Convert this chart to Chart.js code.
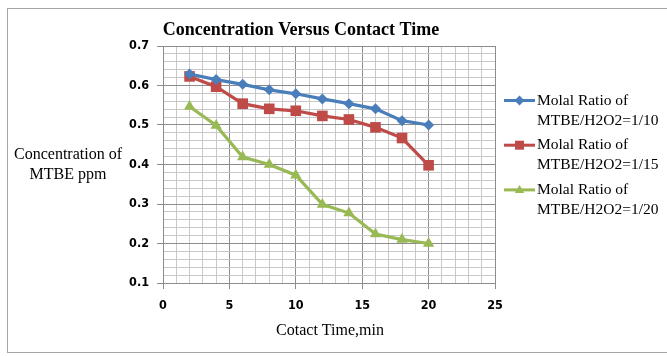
<!DOCTYPE html>
<html>
<head>
<meta charset="utf-8">
<script src="https://cdn.jsdelivr.net/npm/chart.js"></script>
<style>
  html, body { margin: 0; padding: 0; background: #fff; }
  #chart { display: block; }
</style>
</head>
<body>
<canvas id="chart" width="667" height="356"></canvas>
<script>
// contact time (min)
const contactTimes = [2, 4, 6, 8, 10, 12, 14, 16, 18, 20];

// MTBE concentration (ppm) per molal ratio
const ratio10 = [0.629, 0.615, 0.603, 0.589, 0.579, 0.566, 0.554, 0.541, 0.511, 0.500];
const ratio15 = [0.623, 0.597, 0.554, 0.541, 0.536, 0.523, 0.514, 0.494, 0.467, 0.398];
const ratio20 = [0.547, 0.499, 0.419, 0.400, 0.373, 0.299, 0.277, 0.224, 0.210, 0.200];

const seriesNames = [
    ['Molal Ratio of', 'MTBE/H2O2=1/10'],
    ['Molal Ratio of', 'MTBE/H2O2=1/15'],
    ['Molal Ratio of', 'MTBE/H2O2=1/20'],
];

const chartTitle = 'Concentration Versus Contact Time';
const yTitle = ['Concentration of', 'MTBE ppm'];
const xTitle = 'Cotact Time,min';

const colors = ['#4a7ebb', '#be4b48', '#98b954'];
const markers = ['rectRot', 'rect', 'triangle'];
const markerSizes = [5.5, 7.5, 6.5];

const MAJOR = '#8c8c8c';
const MINOR = '#c8c8c8';
const serif = "'Liberation Serif', 'Times New Roman', serif";
const narrow = "'DejaVu Sans Condensed', 'Liberation Sans Narrow', sans-serif";

function toPoints(values) {
    return contactTimes.map((t, i) => ({ x: t, y: values[i] }));
}

function isTenth(v) {
    return Math.abs(v * 10 - Math.round(v * 10)) < 1e-6;
}

function drawMarker(ctx, style, x, y, r) {
    ctx.beginPath();
    if (style === 'rectRot') {
        ctx.moveTo(x, y - r);
        ctx.lineTo(x + r, y);
        ctx.lineTo(x, y + r);
        ctx.lineTo(x - r, y);
    } else if (style === 'rect') {
        ctx.rect(x - r, y - r, 2 * r, 2 * r);
    } else {
        ctx.moveTo(x, y - r);
        ctx.lineTo(x + r * 0.95, y + r * 0.6);
        ctx.lineTo(x - r * 0.95, y + r * 0.6);
    }
    ctx.closePath();
    ctx.fill();
}

const decorations = {
    id: 'decorations',
    beforeDraw(chart) {
        const ctx = chart.ctx;
        ctx.save();
        ctx.strokeStyle = '#a6a6a6';
        ctx.lineWidth = 1;
        ctx.strokeRect(7.5, 8.5, 670, 344);
        ctx.restore();
    },
    afterDraw(chart) {
        const ctx = chart.ctx;
        ctx.save();
        ctx.fillStyle = '#000';
        ctx.textBaseline = 'middle';

        ctx.textAlign = 'center';
        ctx.font = 'bold 18px ' + serif;
        ctx.fillText(chartTitle, 301, 30);

        ctx.font = '16px ' + serif;
        ctx.fillText(yTitle[0], 68, 155);
        ctx.fillText(yTitle[1], 68, 175);
        ctx.fillText(xTitle, 330, 331);

        // legend: line with marker, two-line labels
        ctx.font = '15.5px ' + serif;
        ctx.textAlign = 'left';
        chart.data.datasets.forEach((ds, i) => {
            const y0 = 100.5 + i * 44.7;
            ctx.strokeStyle = colors[i];
            ctx.lineWidth = 3;
            ctx.beginPath();
            ctx.moveTo(504, y0);
            ctx.lineTo(535, y0);
            ctx.stroke();
            ctx.fillStyle = colors[i];
            drawMarker(ctx, markers[i], 519.5, y0, i === 1 ? 4.5 : 5);
            ctx.fillStyle = '#000';
            seriesNames[i].forEach((line, j) => ctx.fillText(line, 537, y0 + j * 20));
        });
        ctx.restore();
    }
};

const datasets = [ratio10, ratio15, ratio20].map((values, i) => ({
    label: seriesNames[i].join(' '),
    data: toPoints(values),
    borderColor: colors[i],
    backgroundColor: colors[i],
    borderWidth: 3.2,
    pointStyle: markers[i],
    pointRadius: markerSizes[i],
    pointBorderWidth: 0,
    pointBorderColor: colors[i],
    tension: 0,
}));

new Chart(document.getElementById('chart'), {
    type: 'line',
    data: { datasets },
    plugins: [decorations],
    options: {
        responsive: false,
        animation: false,
        devicePixelRatio: 1,
        layout: { padding: { left: 100, right: 172, top: 46, bottom: 33 } },
        plugins: {
            legend: { display: false },
            tooltip: { enabled: false },
        },
        scales: {
            x: {
                type: 'linear',
                min: 0,
                max: 25,
                afterFit(scale) { scale.height = 40; },
                ticks: {
                    stepSize: 1,
                    autoSkip: false,
                    maxRotation: 0,
                    padding: 9,
                    color: '#000',
                    font: { family: narrow, size: 12.5, weight: 'bold' },
                    callback: v => (v % 5 === 0 ? v : ''),
                },
                grid: {
                    color: c => (c.tick && c.tick.value % 5 === 0 ? MAJOR : MINOR),
                    tickColor: c => (c.tick && c.tick.value % 5 === 0 ? MAJOR : 'rgba(0,0,0,0)'),
                    tickLength: 6,
                },
                border: { color: MAJOR },
            },
            y: {
                min: 0.1,
                max: 0.7,
                afterFit(scale) { scale.width = 63; },
                ticks: {
                    stepSize: 0.02,
                    autoSkip: false,
                    padding: 8,
                    color: '#000',
                    font: { family: narrow, size: 12.5, weight: 'bold' },
                    callback: v => (isTenth(v) ? v.toFixed(1) : ''),
                },
                grid: {
                    color: c => (c.tick && isTenth(c.tick.value) ? MAJOR : MINOR),
                    tickColor: c => (c.tick && isTenth(c.tick.value) ? MAJOR : 'rgba(0,0,0,0)'),
                    tickLength: 6,
                },
                border: { color: MAJOR },
            },
        },
    },
});
</script>
</body>
</html>
